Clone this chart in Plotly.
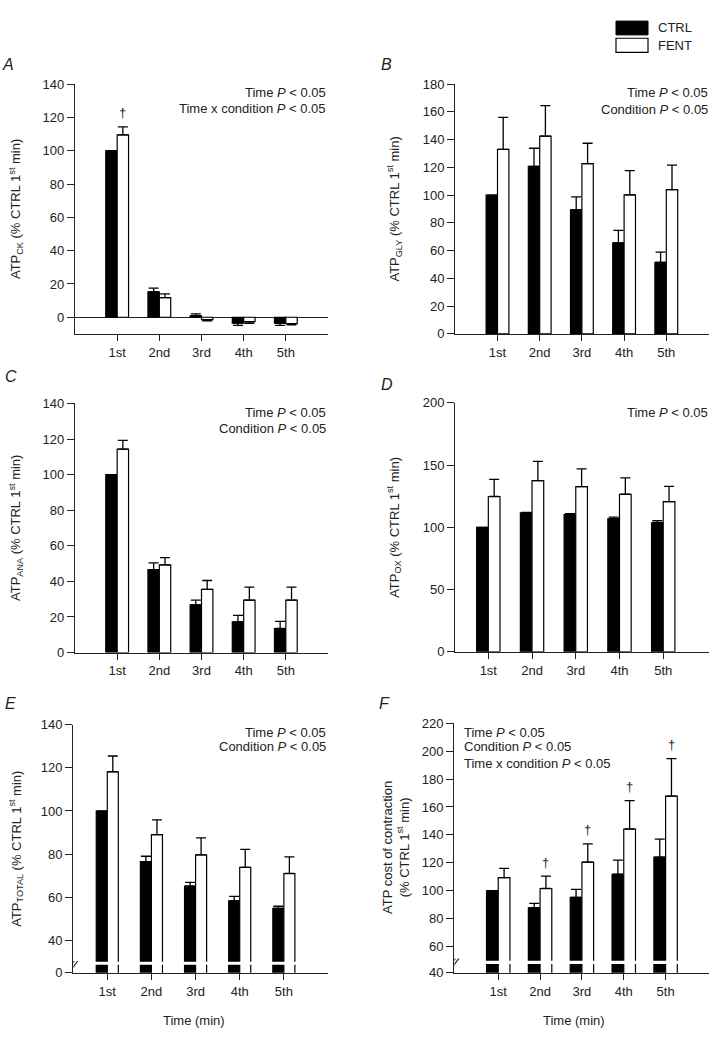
import plotly.graph_objects as go

# ---------------- data ----------------
categories = ["1st", "2nd", "3rd", "4th", "5th"]
series_names = ["CTRL", "FENT"]

ck_ctrl = [100, 15.2, 0.8, -3.5, -3.5]
ck_ctrl_err = [0, 2.3, 1.2, 1.4, 1.4]
ck_fent = [109.5, 11.8, -1.5, -2.6, -3.9]
ck_fent_err = [4.9, 2.2, 0.6, 1.0, 0.6]
ck_dagger = [1, 0, 0, 0, 0]

gly_ctrl = [100, 120.8, 89.5, 65.6, 51.6]
gly_ctrl_err = [0, 13.0, 9.3, 9.0, 7.4]
gly_fent = [133, 142.6, 122.7, 100.2, 104]
gly_fent_err = [23.0, 22.0, 14.7, 17.5, 17.7]

ana_ctrl = [100, 46.6, 26.8, 17.2, 13.5]
ana_ctrl_err = [0, 3.8, 2.7, 3.7, 4.0]
ana_fent = [114.3, 49.3, 35.5, 29.5, 29.5]
ana_fent_err = [5.0, 4.1, 5.0, 7.3, 7.3]

ox_ctrl = [100, 111.6, 110.3, 106.9, 103.7]
ox_ctrl_err = [0, 0.5, 0.7, 1.3, 1.6]
ox_fent = [124.8, 137.5, 132.7, 126.6, 120.6]
ox_fent_err = [13.7, 15.5, 14.3, 13.2, 12.4]

tot_ctrl = [100, 76.5, 65.1, 58.3, 54.8]
tot_ctrl_err = [0, 2.5, 1.8, 2.1, 1.0]
tot_fent = [118.2, 89.0, 79.6, 73.8, 71.0]
tot_fent_err = [7.3, 6.9, 7.9, 8.4, 7.7]

cost_ctrl = [100, 87.8, 95.3, 111.8, 124]
cost_ctrl_err = [0, 3.2, 5.7, 10.1, 13.0]
cost_fent = [109.4, 101.6, 120.5, 144.2, 167.8]
cost_fent_err = [6.6, 8.8, 13.1, 20.3, 26.8]
cost_dagger = [0, 1, 1, 1, 1]

stats_A = ["Time <i>P</i> &lt; 0.05", "Time x condition <i>P</i> &lt; 0.05"]
stats_B = ["Time <i>P</i> &lt; 0.05", "Condition <i>P</i> &lt; 0.05"]
stats_C = ["Time <i>P</i> &lt; 0.05", "Condition <i>P</i> &lt; 0.05"]
stats_D = ["Time <i>P</i> &lt; 0.05"]
stats_E = ["Time <i>P</i> &lt; 0.05", "Condition <i>P</i> &lt; 0.05"]
stats_F = ["Time <i>P</i> &lt; 0.05", "Condition <i>P</i> &lt; 0.05",
           "Time x condition <i>P</i> &lt; 0.05"]

# ---------------- layout helpers ----------------
W, H = 712, 1037
FONT = "Liberation Sans, Arial, Helvetica, sans-serif"
INK = "#222222"


def px(x):
    return x / W


def py(y):
    return 1 - y / H


xpos = list(range(1, len(categories) + 1))

panels = [
    dict(letter="A", ctrl=ck_ctrl, ce=ck_ctrl_err, fent=ck_fent, fe=ck_fent_err,
         dagger=ck_dagger, stats=stats_A, stat_x=328, stat_y=[87, 103], stat_anchor="right",
         title="ATP<sub>CK</sub> (% CTRL 1<sup>st</sup> min)", title_x=16,
         xd=(75, 328), yd=(78.3, 331.7), xr=(0, 6), yr=(-10, 140),
         tickvals=[0, 20, 40, 60, 80, 100, 120, 140], ticktext=None,
         w=0.27, letter_xy=(8, 58), zeroline=True, brk=None),
    dict(letter="B", ctrl=gly_ctrl, ce=gly_ctrl_err, fent=gly_fent, fe=gly_fent_err,
         dagger=None, stats=stats_B, stat_x=710, stat_y=[87, 104], stat_anchor="right",
         title="ATP<sub>GLY</sub> (% CTRL 1<sup>st</sup> min)", title_x=394.5,
         xd=(455.3, 708.5), yd=(78.3, 331.7), xr=(0, 6), yr=(0, 180),
         tickvals=[0, 20, 40, 60, 80, 100, 120, 140, 160, 180], ticktext=None,
         w=0.27, letter_xy=(386, 58), zeroline=False, brk=None),
    dict(letter="C", ctrl=ana_ctrl, ce=ana_ctrl_err, fent=ana_fent, fe=ana_fent_err,
         dagger=None, stats=stats_C, stat_x=328, stat_y=[411.7, 427.7], stat_anchor="right",
         title="ATP<sub>ANA</sub> (% CTRL 1<sup>st</sup> min)", title_x=16,
         xd=(75, 328), yd=(402.3, 655), xr=(0, 6), yr=(0, 140),
         tickvals=[0, 20, 40, 60, 80, 100, 120, 140], ticktext=None,
         w=0.27, letter_xy=(11, 375), zeroline=False, brk=None),
    dict(letter="D", ctrl=ox_ctrl, ce=ox_ctrl_err, fent=ox_fent, fe=ox_fent_err,
         dagger=None, stats=stats_D, stat_x=710, stat_y=[411.7], stat_anchor="right",
         title="ATP<sub>OX</sub> (% CTRL 1<sup>st</sup> min)", title_x=394.5,
         xd=(455.3, 708.7), yd=(401.7, 654.3), xr=(0.245, 6.04), yr=(0, 200),
         tickvals=[0, 50, 100, 150, 200], ticktext=None,
         w=0.267, letter_xy=(387, 383), zeroline=False, brk=None),
    dict(letter="E", ctrl=tot_ctrl, ce=tot_ctrl_err, fent=tot_fent, fe=tot_fent_err,
         dagger=None, stats=stats_E, stat_x=328, stat_y=[736, 750.7], stat_anchor="right",
         title="ATP<sub>TOTAL</sub> (% CTRL 1<sup>st</sup> min)", title_x=16,
         xd=(73.3, 328), yd=(728.3, 980), xr=(0.23, 6.0), yr=(24.9, 140),
         tickvals=[24.9, 40, 60, 80, 100, 120, 140],
         ticktext=["0", "40", "60", "80", "100", "120", "140"],
         w=0.25, letter_xy=(10, 707), zeroline=False, brk=dict(band=(28.6, 30.0), mark=28.3)),
    dict(letter="F", ctrl=cost_ctrl, ce=cost_ctrl_err, fent=cost_fent, fe=cost_fent_err,
         dagger=cost_dagger, stats=stats_F, stat_x=462, stat_y=[736, 750.7, 767.3],
         stat_anchor="left",
         title="ATP cost of contraction<br>(% CTRL 1<sup>st</sup> min)", title_x=396,
         xd=(454.3, 708.7), yd=(726.7, 980), xr=(-0.05, 6.03), yr=(41.2, 220),
         tickvals=[41.2, 60, 80, 100, 120, 140, 160, 180, 200, 220],
         ticktext=["40", "60", "80", "100", "120", "140", "160", "180", "200", "220"],
         w=0.28, letter_xy=(384, 707), zeroline=False, brk=dict(band=(47.5, 49.8), mark=48.2)),
]

fig = go.Figure()
annotations = []
shapes = []
layout = dict(
    width=W, height=H,
    margin=dict(l=0, r=0, t=0, b=0),
    paper_bgcolor="white", plot_bgcolor="white",
    barmode="overlay", showlegend=False,
    font=dict(family=FONT, size=13, color=INK),
)


def err_arrays(vals, errs):
    up = [e if v >= 0 else 0 for v, e in zip(vals, errs)]
    dn = [e if v < 0 else 0 for v, e in zip(vals, errs)]
    return up, dn


for i, p in enumerate(panels, start=1):
    xa = "x" if i == 1 else f"x{i}"
    ya = "y" if i == 1 else f"y{i}"
    w = p["w"]

    cu, cd = err_arrays(p["ctrl"], p["ce"])
    fu, fd = err_arrays(p["fent"], p["fe"])

    fig.add_trace(go.Bar(
        x=xpos, y=p["ctrl"], name=series_names[0], width=w, offset=-w,
        marker=dict(color="black", line=dict(color="black", width=1.2)),
        error_y=dict(type="data", symmetric=False, array=cu, arrayminus=cd,
                     color="black", thickness=1.3, width=5),
        xaxis=xa, yaxis=ya))
    fig.add_trace(go.Bar(
        x=xpos, y=p["fent"], name=series_names[1], width=w, offset=0,
        marker=dict(color="white", line=dict(color="black", width=1.2)),
        error_y=dict(type="data", symmetric=False, array=fu, arrayminus=fd,
                     color="black", thickness=1.3, width=5),
        xaxis=xa, yaxis=ya))

    axis_common = dict(showline=True, linecolor=INK, linewidth=1.3, ticks="outside",
                       tickcolor=INK, tickwidth=1.3, showgrid=False,
                       tickfont=dict(family=FONT, size=13, color=INK), fixedrange=True)
    layout["xaxis" if i == 1 else f"xaxis{i}"] = dict(
        axis_common, domain=[px(p["xd"][0]), px(p["xd"][1])], range=list(p["xr"]),
        anchor=ya, tickvals=xpos, ticktext=categories, ticklen=6, zeroline=False)
    yax = dict(
        axis_common, domain=[py(p["yd"][1]), py(p["yd"][0])], range=list(p["yr"]),
        anchor=xa, tickvals=p["tickvals"], ticklen=7,
        zeroline=p["zeroline"], zerolinecolor=INK, zerolinewidth=1.2)
    if p["ticktext"] is not None:
        yax["ticktext"] = p["ticktext"]
    layout["yaxis" if i == 1 else f"yaxis{i}"] = yax

    # panel letter
    annotations.append(dict(text=f"<i>{p['letter']}</i>", xref="paper", yref="paper",
                            x=px(p["letter_xy"][0]), y=py(p["letter_xy"][1]),
                            xanchor="center", yanchor="middle", showarrow=False,
                            font=dict(family=FONT, size=16, color=INK)))
    # y title
    annotations.append(dict(text=p["title"], xref="paper", yref="paper",
                            x=px(p["title_x"]), y=py((p["yd"][0] + p["yd"][1]) / 2),
                            textangle=-90, xanchor="center", yanchor="middle",
                            showarrow=False, font=dict(family=FONT, size=13, color=INK)))
    # statistics text
    for line, yy in zip(p["stats"], p["stat_y"]):
        annotations.append(dict(text=line, xref="paper", yref="paper",
                                x=px(p["stat_x"]), y=py(yy), xanchor=p["stat_anchor"],
                                yanchor="middle", showarrow=False,
                                font=dict(family=FONT, size=13, color=INK)))
    # daggers
    if p["dagger"] is not None:
        for xv, v, e, d in zip(xpos, p["fent"], p["fe"], p["dagger"]):
            if d:
                annotations.append(dict(text="†", xref=xa, yref=ya, x=xv + w / 2, y=v + e,
                                        yshift=14, xanchor="center", yanchor="middle",
                                        showarrow=False,
                                        font=dict(family=FONT, size=13, color=INK)))
    # axis break
    if p["brk"] is not None:
        b0, b1 = p["brk"]["band"]
        shapes.append(dict(type="rect", xref=f"{xa} domain", yref=ya, x0=0.02, x1=1,
                           y0=b0, y1=b1, fillcolor="white", line=dict(width=0),
                           layer="above"))
        m = p["brk"]["mark"]
        shapes.append(dict(type="rect", xref=xa, yref=ya, xsizemode="pixel",
                           ysizemode="pixel", xanchor=p["xr"][0], yanchor=m,
                           x0=-3, x1=3, y0=-2, y1=2, fillcolor="white",
                           line=dict(width=0), layer="above"))
        for dx in (-2.5, 1.0):
            shapes.append(dict(type="line", xref=xa, yref=ya, xsizemode="pixel",
                               ysizemode="pixel", xanchor=p["xr"][0], yanchor=m,
                               x0=dx - 3.5, x1=dx + 3.5, y0=-4.5, y1=4.5,
                               line=dict(color=INK, width=1.2), layer="above"))
    if i in (5, 6):
        annotations.append(dict(text="Time (min)", xref="paper", yref="paper",
                                x=px((p["xd"][0] + p["xd"][1]) / 2 + (-7 if i == 5 else -8)),
                                y=py(1028.5), xanchor="center", yanchor="middle",
                                showarrow=False, font=dict(family=FONT, size=13, color=INK)))

# legend drawn manually
shapes.append(dict(type="rect", xref="paper", yref="paper", x0=px(616), x1=px(648),
                   y0=py(28.3), y1=py(14.3), fillcolor="black",
                   line=dict(color="black", width=1)))
shapes.append(dict(type="rect", xref="paper", yref="paper", x0=px(616), x1=px(648),
                   y0=py(46), y1=py(31.7), fillcolor="white",
                   line=dict(color="black", width=1.2)))
annotations.append(dict(text=series_names[0], xref="paper", yref="paper", x=px(656), y=py(21.3),
                        xanchor="left", yanchor="middle", showarrow=False,
                        font=dict(family=FONT, size=13, color=INK)))
annotations.append(dict(text=series_names[1], xref="paper", yref="paper", x=px(656), y=py(38.8),
                        xanchor="left", yanchor="middle", showarrow=False,
                        font=dict(family=FONT, size=13, color=INK)))

layout["annotations"] = annotations
layout["shapes"] = shapes
fig.update_layout(**layout)
fig.write_html("out.html", config={"displayModeBar": False},
               post_script="document.body.style.margin='0px';document.body.style.overflow='hidden';")
